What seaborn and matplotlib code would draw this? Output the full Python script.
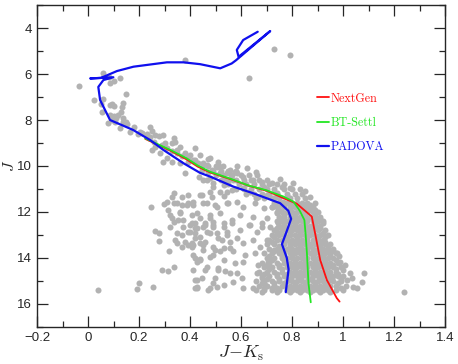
import matplotlib
matplotlib.use("Agg")
import matplotlib.pyplot as plt
from matplotlib.ticker import MultipleLocator, FuncFormatter
import seaborn as sns
import pandas as pd

# stars: (J-Ks, J)
bright_stars = [
    (0.378, 5.39), (0.727, 4.93), (0.791, 5.19), (0.631, 6.16),
    (-0.034, 6.51), (0.06, 5.94), (0.08, 6.14), (0.086, 6.38), (0.125, 6.19),
    (0.102, 6.29), (0.149, 6.87), (0.025, 7.13), (0.058, 7.09), (0.051, 7.32),
    (0.093, 7.3), (0.086, 7.35), (0.1, 7.39), (0.135, 7.25), (0.132, 7.45),
    (0.13, 7.64), (0.054, 7.64), (0.086, 7.78), (0.1, 7.83), (0.11, 7.93),
    (0.119, 7.8), (0.093, 8.0), (0.106, 8.07), (0.136, 7.93), (0.149, 8.07),
    (0.138, 8.07), (0.077, 8.12), (0.152, 8.17), (0.178, 8.32), (0.125, 8.36),
    (0.165, 8.51), (0.204, 8.51), (0.213, 8.58), (0.195, 8.61), (0.23, 8.62),
    (0.243, 8.32), (0.252, 8.47), (0.243, 8.73),
]

sequence_stars = [
    (0.263, 8.65), (0.237, 8.8), (0.263, 9.16), (0.25, 9.3), (0.335, 8.8),
    (0.328, 9.01), (0.361, 9.16), (0.348, 9.45), (0.4, 9.52), (0.42, 9.23),
    (0.42, 9.74), (0.393, 9.81), (0.361, 9.88), (0.452, 9.88), (0.478, 9.67),
    (0.505, 10.03), (0.511, 9.81), (0.472, 10.25), (0.446, 10.17), (0.433, 10.46),
    (0.465, 10.61), (0.491, 10.75), (0.531, 10.61), (0.544, 10.32), (0.38, 10.32),
    (0.282, 9.45), (0.309, 9.67), (0.328, 9.81), (0.295, 9.81), (0.276, 8.7),
    (0.295, 8.65), (0.341, 8.94), (0.472, 9.71), (0.439, 9.52),
    (0.518, 10.03), (0.563, 10.39), (0.576, 10.25), (0.585, 9.99), (0.622, 10.1),
    (0.658, 10.28), (0.753, 10.57), (0.465, 9.96), (0.511, 9.96), (0.485, 10.17),
    (0.452, 10.61), (0.478, 10.54), (0.518, 10.32), (0.557, 10.17), (0.583, 10.32),
    (0.609, 10.46), (0.648, 10.61), (0.661, 10.39), (0.681, 10.68), (0.688, 10.9),
    (0.72, 10.75), (0.76, 10.9), (0.792, 10.97), (0.805, 10.75), (0.57, 10.61),
    (0.531, 10.83), (0.491, 10.9), (0.563, 11.04), (0.609, 10.97), (0.635, 11.12),
    (0.668, 11.33), (0.7, 11.26), (0.727, 11.4), (0.74, 11.19), (0.766, 11.55),
    (0.786, 11.4), (0.26, 8.95), (0.29, 9.1), (0.31, 9.2), (0.33, 9.35),
    (0.37, 9.55), (0.39, 9.62), (0.41, 9.75), (0.43, 9.85), (0.45, 9.95),
    (0.30, 9.0), (0.35, 9.3), (0.38, 9.45),
    (0.85, 11.1), (0.87, 11.35), (0.89, 11.6), (0.86, 11.75),
]

# rows of the band along the upper main sequence
band_j = [10.0, 10.2, 10.4, 10.6, 10.8, 11.0, 11.2, 11.4]
band_jk = [
    [0.47, 0.50, 0.53],
    [0.49, 0.52, 0.55, 0.58],
    [0.50, 0.53, 0.56, 0.60, 0.63],
    [0.52, 0.55, 0.58, 0.61, 0.64, 0.67, 0.70],
    [0.55, 0.59, 0.62, 0.65, 0.68, 0.71, 0.74, 0.77],
    [0.58, 0.61, 0.64, 0.67, 0.70, 0.73, 0.77, 0.80, 0.83],
    [0.62, 0.65, 0.68, 0.71, 0.74, 0.78, 0.81, 0.84],
    [0.66, 0.69, 0.72, 0.75, 0.79, 0.82, 0.85],
]

faint_stars = [
    (0.335, 11.19), (0.328, 11.33), (0.367, 11.33), (0.393, 11.26), (0.446, 11.26),
    (0.478, 11.12), (0.518, 11.12), (0.544, 11.12), (0.465, 11.62), (0.498, 11.7),
    (0.55, 11.62), (0.583, 11.55), (0.609, 11.77), (0.655, 11.62), (0.688, 11.84),
    (0.72, 11.77), (0.74, 12.06), (0.7, 12.27), (0.648, 12.2), (0.596, 12.13),
    (0.563, 12.35), (0.518, 12.06), (0.478, 12.27), (0.452, 12.64), (0.491, 12.64),
    (0.635, 12.57), (0.746, 12.49), (0.681, 12.64), (0.247, 11.77), (0.299, 11.65),
    (0.337, 11.62), (0.37, 11.7), (0.393, 11.62), (0.413, 11.7), (0.322, 12.13),
    (0.315, 11.91), (0.328, 12.27), (0.361, 12.06), (0.354, 12.35), (0.406, 12.13),
    (0.426, 12.06), (0.322, 12.64), (0.263, 12.81), (0.276, 12.93), (0.374, 12.64),
    (0.4, 12.57), (0.42, 12.71), (0.348, 12.93), (0.367, 13.0), (0.393, 12.86),
    (0.42, 12.93), (0.276, 13.25), (0.341, 13.22), (0.348, 13.36), (0.367, 13.51),
    (0.393, 13.43), (0.406, 13.36), (0.439, 13.36), (0.318, 13.68), (0.413, 13.87),
    (0.42, 14.01), (0.426, 14.16), (0.289, 14.52), (0.315, 14.59), (0.337, 14.38),
    (0.413, 14.52), (0.426, 14.96), (0.42, 15.32), (0.2, 15.1), (0.193, 15.35),
    (0.254, 15.27), (0.038, 15.39), (0.439, 11.26), (0.485, 11.33), (0.531, 11.3),
    (0.309, 11.55), (0.348, 11.62), (0.387, 11.7), (0.413, 11.55), (0.452, 11.62),
    (0.505, 11.77), (0.544, 11.62), (0.361, 11.99), (0.439, 12.27), (0.478, 12.13),
    (0.335, 12.42), (0.374, 12.35), (0.406, 12.49), (0.459, 12.49), (0.491, 12.57),
    (0.531, 12.49), (0.4, 12.86), (0.426, 12.71), (0.465, 12.86), (0.505, 12.93),
    (0.544, 12.86), (0.38, 13.29), (0.42, 13.14), (0.459, 13.29), (0.491, 13.51),
    (0.524, 13.22), (0.406, 13.51), (0.452, 13.65), (0.518, 13.72), (0.557, 13.58),
    (0.439, 14.06), (0.491, 13.87), (0.531, 14.09), (0.465, 14.38), (0.511, 14.52),
    (0.557, 14.67), (0.446, 14.88), (0.491, 15.1), (0.505, 15.25), (0.478, 15.32),
    (0.426, 15.25), (0.531, 15.17), (0.42, 12.49), (0.459, 12.57), (0.491, 12.42),
    (0.531, 12.64), (0.563, 12.49), (0.596, 12.78), (0.629, 12.57), (0.661, 12.86),
    (0.681, 12.49), (0.714, 12.64), (0.74, 12.93), (0.439, 13.07), (0.478, 12.93),
    (0.511, 13.14), (0.544, 13.0), (0.557, 13.29), (0.583, 13.14), (0.609, 13.36),
    (0.648, 13.22), (0.675, 13.51), (0.7, 13.22), (0.413, 13.43), (0.452, 13.43),
    (0.498, 13.65), (0.531, 13.58), (0.57, 13.72), (0.616, 13.87), (0.655, 13.8),
    (0.727, 13.65), (0.439, 14.09), (0.478, 13.94), (0.576, 14.23), (0.609, 14.16),
    (0.668, 14.3), (0.707, 14.16), (0.459, 14.52), (0.511, 14.45), (0.537, 14.59),
    (0.583, 14.67), (0.603, 14.88), (0.661, 14.67), (0.681, 14.88), (0.42, 14.96),
    (0.498, 14.88), (0.57, 15.03), (0.609, 15.32), (0.426, 15.32), (0.472, 15.39),
    (0.648, 15.32), (0.694, 15.17), (0.72, 15.32),
]

outlier_stars = [
    (0.975, 13.8), (0.982, 13.91), (0.988, 14.16), (1.008, 14.3), (1.001, 14.52),
    (1.027, 14.67), (1.015, 14.96), (1.08, 14.67), (1.073, 15.03), (1.034, 14.88),
    (1.04, 15.25), (1.054, 15.32), (1.237, 15.49),
]

# rows of the crowded faint clump
clump_j = [11.6, 11.8, 12.0, 12.2, 12.4, 12.6, 12.8, 13.0, 13.2, 13.4, 13.6,
           13.8, 14.0, 14.2, 14.4, 14.6, 14.8, 15.0, 15.2, 15.4, 15.5]
clump_jk = [
    [0.73, 0.75, 0.78, 0.80, 0.82, 0.84, 0.86],
    [0.72, 0.74, 0.77, 0.79, 0.81, 0.83, 0.85, 0.88],
    [0.74, 0.76, 0.78, 0.80, 0.82, 0.84, 0.86, 0.88, 0.90],
    [0.75, 0.77, 0.79, 0.81, 0.83, 0.85, 0.87, 0.89, 0.91],
    [0.74, 0.76, 0.78, 0.80, 0.82, 0.84, 0.86, 0.88, 0.90, 0.92],
    [0.75, 0.77, 0.79, 0.81, 0.83, 0.85, 0.87, 0.89, 0.91],
    [0.73, 0.76, 0.78, 0.80, 0.82, 0.84, 0.86, 0.88, 0.90, 0.93],
    [0.72, 0.75, 0.77, 0.79, 0.81, 0.83, 0.85, 0.87, 0.89, 0.91, 0.94],
    [0.71, 0.74, 0.76, 0.78, 0.80, 0.82, 0.84, 0.86, 0.88, 0.90, 0.92],
    [0.70, 0.73, 0.77, 0.79, 0.81, 0.83, 0.85, 0.87, 0.89, 0.91, 0.93, 0.95],
    [0.71, 0.74, 0.76, 0.78, 0.80, 0.82, 0.84, 0.86, 0.88, 0.90, 0.92, 0.94, 0.96],
    [0.69, 0.72, 0.75, 0.77, 0.79, 0.81, 0.83, 0.85, 0.87, 0.89, 0.91, 0.93, 0.95, 0.97],
    [0.70, 0.73, 0.76, 0.78, 0.80, 0.82, 0.84, 0.86, 0.88, 0.90, 0.92, 0.94, 0.96],
    [0.68, 0.71, 0.74, 0.77, 0.79, 0.81, 0.83, 0.85, 0.87, 0.89, 0.91, 0.93, 0.95, 0.98],
    [0.69, 0.72, 0.75, 0.78, 0.80, 0.82, 0.84, 0.86, 0.88, 0.90, 0.92, 0.94, 0.96, 0.99],
    [0.67, 0.70, 0.73, 0.76, 0.79, 0.81, 0.83, 0.85, 0.87, 0.89, 0.91, 0.93, 0.95, 0.97],
    [0.68, 0.71, 0.74, 0.77, 0.80, 0.82, 0.84, 0.86, 0.88, 0.90, 0.92, 0.94, 0.96, 0.98, 1.00],
    [0.66, 0.69, 0.72, 0.75, 0.78, 0.80, 0.82, 0.84, 0.86, 0.88, 0.90, 0.92, 0.94, 0.96, 0.99],
    [0.67, 0.70, 0.73, 0.76, 0.79, 0.81, 0.83, 0.85, 0.87, 0.89, 0.91, 0.93, 0.95, 0.97, 1.01],
    [0.66, 0.69, 0.72, 0.75, 0.78, 0.80, 0.82, 0.84, 0.86, 0.88, 0.90, 0.92, 0.94, 0.97, 1.00],
    [0.68, 0.74, 0.79, 0.83, 0.87, 0.91, 0.95],
]

# stars lying between the clump rows above
clump_mid_j = [11.7, 11.9, 12.1, 12.3, 12.5, 12.7, 12.9, 13.1, 13.3, 13.5,
               13.7, 13.9, 14.1, 14.3, 14.5, 14.7, 14.9, 15.1, 15.3]
clump_mid_jk = [
    [0.76, 0.81, 0.85, 0.87],
    [0.75, 0.79, 0.84, 0.87, 0.89],
    [0.77, 0.81, 0.85, 0.89],
    [0.76, 0.80, 0.84, 0.88, 0.91],
    [0.77, 0.81, 0.85, 0.89, 0.92],
    [0.74, 0.79, 0.83, 0.87, 0.91],
    [0.75, 0.79, 0.83, 0.87, 0.92],
    [0.73, 0.78, 0.82, 0.86, 0.90, 0.93],
    [0.72, 0.77, 0.81, 0.85, 0.89, 0.93],
    [0.75, 0.79, 0.83, 0.87, 0.91, 0.94],
    [0.73, 0.77, 0.81, 0.85, 0.89, 0.93, 0.96],
    [0.71, 0.76, 0.80, 0.84, 0.88, 0.92, 0.95],
    [0.72, 0.77, 0.81, 0.85, 0.89, 0.93, 0.97],
    [0.70, 0.75, 0.80, 0.84, 0.88, 0.92, 0.96],
    [0.71, 0.76, 0.81, 0.85, 0.89, 0.93, 0.97],
    [0.69, 0.74, 0.78, 0.82, 0.86, 0.90, 0.94, 0.98],
    [0.70, 0.75, 0.79, 0.83, 0.87, 0.91, 0.95, 0.99],
    [0.68, 0.73, 0.77, 0.81, 0.85, 0.89, 0.93, 0.98],
    [0.69, 0.74, 0.78, 0.82, 0.86, 0.90, 0.94, 0.99],
]

# isochrones
nextgen_jk = [0.224, 0.322, 0.387, 0.43, 0.478, 0.557, 0.63, 0.70, 0.766, 0.818,
              0.877, 0.89, 0.91, 0.936, 0.975, 0.986]
nextgen_j = [8.82, 9.33, 9.72, 10.03, 10.28, 10.57, 10.86, 11.08, 11.4, 11.64,
             12.2, 12.93, 14.09, 14.96, 15.75, 15.9]

settl_jk = [0.224, 0.322, 0.387, 0.43, 0.478, 0.557, 0.63, 0.70, 0.766, 0.805,
            0.83, 0.848, 0.853, 0.858, 0.864, 0.873]
settl_j = [8.8, 9.3, 9.67, 9.98, 10.25, 10.55, 10.85, 11.06, 11.33, 11.55,
           11.95, 12.35, 13.0, 13.8, 15.1, 15.93]

padova_jk = [0.775, 0.786, 0.779, 0.76, 0.78, 0.796, 0.785, 0.753, 0.648, 0.57,
             0.478, 0.439, 0.374, 0.295, 0.243, 0.176, 0.086, 0.047, 0.04, 0.06,
             0.099, 0.008, 0.05, 0.113, 0.178, 0.309, 0.374, 0.439, 0.518, 0.563,
             0.58, 0.714, 0.59, 0.583, 0.608, 0.665]
padova_j = [15.49, 14.5, 14.0, 13.4, 12.8, 12.3, 11.95, 11.62, 11.19, 10.9,
            10.46, 10.3, 9.88, 9.3, 8.87, 8.43, 8.0, 7.13, 6.56, 6.26,
            6.14, 6.19, 6.17, 5.87, 5.68, 5.49, 5.49, 5.57, 5.75, 5.54,
            5.4, 4.13, 5.25, 4.95, 4.52, 4.16]

stars = pd.DataFrame(bright_stars + sequence_stars + faint_stars + outlier_stars,
                     columns=['jk', 'j'])
rows = [(x, j) for j, xs in zip(band_j + clump_j + clump_mid_j,
                                band_jk + clump_jk + clump_mid_jk) for x in xs]
stars = pd.concat([stars, pd.DataFrame(rows, columns=['jk', 'j'])], ignore_index=True)

iso = pd.concat([
    pd.DataFrame({'jk': nextgen_jk, 'j': nextgen_j, 'model': 'NextGen'}),
    pd.DataFrame({'jk': settl_jk, 'j': settl_j, 'model': 'BT-Settl'}),
    pd.DataFrame({'jk': padova_jk, 'j': padova_j, 'model': 'PADOVA'}),
])
colors = {'NextGen': '#ff1010', 'BT-Settl': '#22e622', 'PADOVA': '#1010ee'}
widths = {'NextGen': 1.3, 'BT-Settl': 1.3, 'PADOVA': 1.6}

sns.set_style('ticks')
plt.rcParams['font.family'] = ['Liberation Sans', 'DejaVu Sans']
plt.rcParams['mathtext.fontset'] = 'cm'

fig, ax = plt.subplots(figsize=(4.58, 3.64), dpi=100)
fig.subplots_adjust(left=0.081, right=0.972, bottom=0.102, top=0.986)

sns.scatterplot(data=stars, x='jk', y='j', color='#b2b2b2', s=19, linewidth=0,
                ax=ax, zorder=1)

for name in ['NextGen', 'BT-Settl', 'PADOVA']:
    sns.lineplot(data=iso[iso['model'] == name], x='jk', y='j', sort=False,
                 estimator=None, color=colors[name], lw=widths[name], ax=ax,
                 label=name, zorder=2)

ax.set_xlim(-0.2, 1.4)
ax.set_ylim(17, 3)
ax.xaxis.set_major_locator(MultipleLocator(0.2))
ax.xaxis.set_minor_locator(MultipleLocator(0.1))
ax.yaxis.set_major_locator(MultipleLocator(2))
ax.yaxis.set_minor_locator(MultipleLocator(1))
fmt = FuncFormatter(lambda v, p: f'{round(v, 3) + 0:g}'.replace('-', '\u2212'))
ax.xaxis.set_major_formatter(fmt)
ax.yaxis.set_major_formatter(fmt)
ax.tick_params(which='both', direction='in', top=True, right=True, labelsize=9.5)
ax.tick_params(which='major', length=8, width=0.9)
ax.tick_params(which='minor', length=4, width=0.9)
for sp in ax.spines.values():
    sp.set_linewidth(1.0)

ax.set_xlabel(r'$J{-}K_{\rm s}$', fontsize=13, labelpad=0)
ax.set_ylabel(r'$J$', fontsize=11.5, labelpad=0)
ax.yaxis.set_label_coords(-0.05, 0.5)

leg = ax.legend(loc='upper left', bbox_to_anchor=(0.686, 0.728), frameon=False,
                handlelength=1.0, handletextpad=0.1, labelspacing=1.0,
                borderpad=0, borderaxespad=0, labelcolor='linecolor',
                prop={'family': 'cmr10', 'size': 8.7})

plt.savefig('out.png', dpi=100)
